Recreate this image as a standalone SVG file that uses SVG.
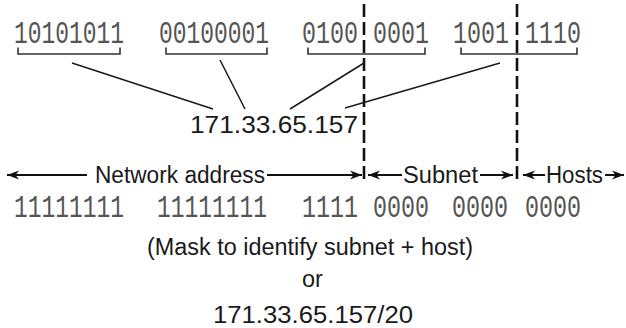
<svg xmlns="http://www.w3.org/2000/svg" width="626" height="328" viewBox="0 0 626 328">
<defs>
<style>
.bin{font-family:"Liberation Mono",monospace;font-size:31px;fill:#555}
.lbl{font-family:"Liberation Sans",Arial,sans-serif;font-size:23.5px;fill:#1a1a1a}
.br{fill:none;stroke:#333;stroke-width:1.6}
.ln{stroke:#1a1a1a;stroke-width:1.5;fill:none}
.dash{stroke:#111;stroke-width:2.6;stroke-dasharray:13 5;fill:none}
.arr{stroke:#111;stroke-width:2;fill:none;marker-end:url(#ah)}
</style>
<marker id="ah" markerUnits="userSpaceOnUse" markerWidth="14" markerHeight="10" viewBox="-12 -5 13 10" refX="0" refY="0" orient="auto">
<path d="M0,0 L-12,-4.5 L-8.5,0 L-12,4.5 Z" fill="#111"/>
</marker>
</defs>
<rect width="626" height="328" fill="#fff"/>

<g id="byte1">
<text class="bin" x="14" y="43" textLength="110" lengthAdjust="spacingAndGlyphs">10101011</text>
<path class="br" d="M18,47.5 V54 H120 V47.5"/>
</g>
<g id="byte2">
<text class="bin" x="159" y="43" textLength="110" lengthAdjust="spacingAndGlyphs">00100001</text>
<path class="br" d="M166,47.5 V54 H267 V47.5"/>
</g>
<g id="byte3">
<text class="bin" x="302" y="43" textLength="56" lengthAdjust="spacingAndGlyphs">0100</text>
<text class="bin" x="373" y="43" textLength="56" lengthAdjust="spacingAndGlyphs">0001</text>
<path class="br" d="M308,47.5 V54 H425 V47.5"/>
</g>
<g id="byte4">
<text class="bin" x="453" y="43" textLength="56" lengthAdjust="spacingAndGlyphs">1001</text>
<text class="bin" x="525" y="43" textLength="56" lengthAdjust="spacingAndGlyphs">1110</text>
<path class="br" d="M461,47.5 V54 H577 V47.5"/>
</g>

<g id="ip">
<text class="lbl" x="190" y="133" font-size="24.5" textLength="168" lengthAdjust="spacingAndGlyphs">171.33.65.157</text>
</g>

<g id="boundaries">
<line class="dash" x1="364" y1="4" x2="364" y2="179"/>
<line class="dash" x1="517" y1="4" x2="517" y2="179"/>
</g>

<g id="connectors">
<line class="ln" x1="72" y1="63" x2="213" y2="109"/>
<line class="ln" x1="220" y1="60" x2="245" y2="109"/>
<line class="ln" x1="290" y1="109" x2="364" y2="63"/>
<line class="ln" x1="345" y1="108" x2="500" y2="63"/>
<line class="arr" x1="87" y1="175" x2="7" y2="175"/>
<line class="arr" x1="267" y1="175" x2="362" y2="175"/>
<line class="arr" x1="402" y1="175" x2="368" y2="175"/>
<line class="arr" x1="480" y1="175" x2="513" y2="175"/>
<line class="arr" x1="545" y1="175" x2="523" y2="175"/>
<line class="arr" x1="605" y1="175" x2="624" y2="175"/>
</g>

<g id="network">
<text class="lbl" x="95" y="183" textLength="170" lengthAdjust="spacingAndGlyphs">Network address</text>
</g>
<g id="subnet">
<text class="lbl" x="403" y="183" textLength="75" lengthAdjust="spacingAndGlyphs">Subnet</text>
</g>
<g id="hosts">
<text class="lbl" x="546" y="183" textLength="57" lengthAdjust="spacingAndGlyphs">Hosts</text>
</g>

<g id="mask">
<text class="bin" x="14" y="217" font-size="29" textLength="110" lengthAdjust="spacingAndGlyphs">11111111</text>
<text class="bin" x="157" y="217" font-size="29" textLength="110" lengthAdjust="spacingAndGlyphs">11111111</text>
<text class="bin" x="302" y="217" font-size="29" textLength="56" lengthAdjust="spacingAndGlyphs">1111</text>
<text class="bin" x="373" y="217" font-size="29" textLength="56" lengthAdjust="spacingAndGlyphs">0000</text>
<text class="bin" x="452" y="217" font-size="29" textLength="56" lengthAdjust="spacingAndGlyphs">0000</text>
<text class="bin" x="525" y="217" font-size="29" textLength="56" lengthAdjust="spacingAndGlyphs">0000</text>
</g>

<g id="caption">
<text class="lbl" x="147" y="255" textLength="326" lengthAdjust="spacingAndGlyphs">(Mask to identify subnet + host)</text>
<text class="lbl" x="302" y="287">or</text>
<text class="lbl" x="213" y="323" textLength="200" lengthAdjust="spacingAndGlyphs">171.33.65.157/20</text>
</g>
</svg>
